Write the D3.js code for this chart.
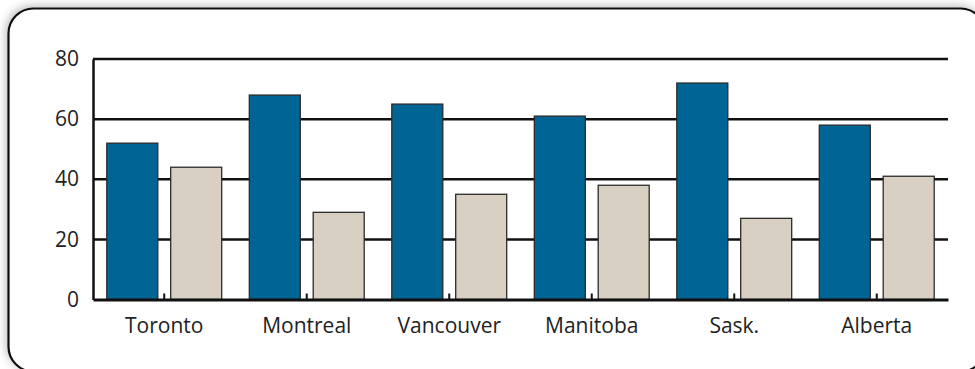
<!DOCTYPE html>
<html>
<head>
<meta charset="utf-8">
<script src="https://cdn.jsdelivr.net/npm/d3@7"></script>
<style>
html,body{margin:0;padding:0;background:#fff;}
svg{display:block;}
text{font-family:"Open Sans","Noto Sans",sans-serif;fill:#222;}
</style>
</head>
<body>
<svg id="chart" width="975" height="369"></svg>
<script>
const categories = ["Toronto","Montreal","Vancouver","Manitoba","Sask.","Alberta"];
const seriesA = [52,68,65,61,72,58];
const seriesB = [44,29,35,38,27,41];
const yTicks = [0,20,40,60,80];

const W = 975, H = 369;
const margin = {left:93, right:27, top:59, bottom:70};
const svg = d3.select("#chart");

const defs = svg.append("defs");
const f = defs.append("filter").attr("id","sh").attr("x","-10%").attr("y","-20%").attr("width","120%").attr("height","140%");
f.append("feDropShadow").attr("dx",-2).attr("dy",-2).attr("stdDeviation",4).attr("flood-color","#000").attr("flood-opacity",0.25);

svg.append("rect")
  .attr("x",8.5).attr("y",8.5).attr("width",977).attr("height",363).attr("rx",25).attr("ry",25)
  .attr("fill","#fff").attr("stroke","#111").attr("stroke-width",2.2)
  .attr("filter","url(#sh)");

const x = d3.scaleBand().domain(categories).range([margin.left, W-margin.right]);
const y = d3.scaleLinear().domain([0,80]).range([299.5, 59]);

// gridlines
svg.append("g").selectAll("line").data(yTicks.filter(d=>d>0)).join("line")
  .attr("x1",margin.left).attr("x2",W-margin.right)
  .attr("y1",d=>y(d)).attr("y2",d=>y(d))
  .attr("stroke","#111").attr("stroke-width",2.5);

const bw = 51, pad = 13.8;
const g = svg.append("g");
g.selectAll("rect.a").data(categories).join("rect").attr("class","a")
  .attr("x",d=>x(d)+pad).attr("width",bw)
  .attr("y",(d,i)=>y(seriesA[i])).attr("height",(d,i)=>y(0)-y(seriesA[i]))
  .attr("fill","#006494").attr("stroke","#2a2a2a").attr("stroke-width",1.3);
g.selectAll("rect.b").data(categories).join("rect").attr("class","b")
  .attr("x",d=>x(d)+x.bandwidth()-pad-bw).attr("width",bw)
  .attr("y",(d,i)=>y(seriesB[i])).attr("height",(d,i)=>y(0)-y(seriesB[i]))
  .attr("fill","#d8d1c3").attr("stroke","#2a2a2a").attr("stroke-width",1.3);

const fontStyle = sel => sel.style("font-size","21px").style("font-weight","400").attr("fill","#2b2b2b")
  .style("font-family","'Open Sans','Noto Sans',sans-serif");

// y axis
const ya = svg.append("g").attr("transform",`translate(${margin.left},0)`)
  .call(d3.axisLeft(y).tickValues(yTicks).tickSize(0).tickPadding(14));
ya.select(".domain").attr("stroke","#111").attr("stroke-width",2.5);
ya.selectAll("text").call(fontStyle);

// x axis
const xa = svg.append("g").attr("transform",`translate(0,${y(0)})`)
  .call(d3.axisBottom(x).tickSize(0).tickPadding(19));
xa.select(".domain").attr("stroke","#111").attr("stroke-width",3);
xa.selectAll("text").call(fontStyle);
xa.selectAll(".tick").append("line").attr("x1",0).attr("x2",0).attr("y1",0).attr("y2",-6)
  .attr("stroke","#111").attr("stroke-width",2);
</script>
</body>
</html>
